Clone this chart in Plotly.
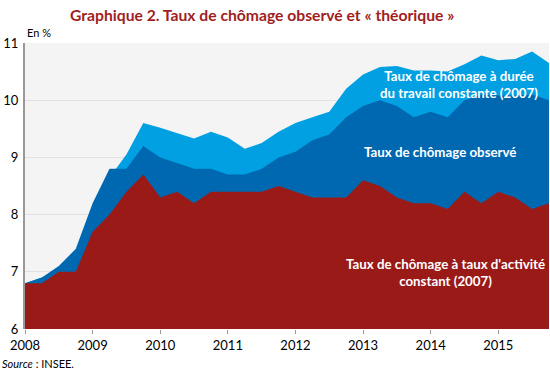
import plotly.graph_objects as go

quarters = [2008 + i * 0.25 for i in range(32)]

# Taux de chômage à durée du travail constante (2007)
duree_constante = [6.8, 6.9, 7.05, 7.35, 8.1, 8.65, 9.05, 9.6, 9.52, 9.42, 9.33, 9.45,
                   9.35, 9.15, 9.25, 9.45, 9.6, 9.7, 9.8, 10.2, 10.45, 10.58, 10.6, 10.52,
                   10.52, 10.5, 10.63, 10.78, 10.7, 10.72, 10.85, 10.65]
# Taux de chômage observé
observe = [6.8, 6.9, 7.1, 7.4, 8.2, 8.8, 8.8, 9.2, 9.0, 8.9, 8.8, 8.8,
           8.7, 8.7, 8.8, 9.0, 9.1, 9.3, 9.4, 9.7, 9.9, 10.0, 9.9, 9.7,
           9.8, 9.7, 10.0, 10.1, 10.08, 10.08, 10.1, 10.0]
# Taux de chômage à taux d'activité constant (2007)
activite_constante = [6.8, 6.8, 7.0, 7.0, 7.7, 8.0, 8.4, 8.7, 8.3, 8.4, 8.2, 8.4,
                      8.4, 8.4, 8.4, 8.5, 8.4, 8.3, 8.3, 8.3, 8.6, 8.5, 8.3, 8.2,
                      8.2, 8.1, 8.4, 8.2, 8.4, 8.3, 8.1, 8.2]

year_ticks = [2008, 2009, 2010, 2011, 2012, 2013, 2014, 2015]
y_ticks = [6, 7, 8, 9, 10, 11]

FONT = "Lato"
fig = go.Figure()
for vals, color, name in [
    (duree_constante, "#00A0E2", "Taux de chômage à durée du travail constante (2007)"),
    (observe, "#0068B1", "Taux de chômage observé"),
    (activite_constante, "#9A1A18", "Taux de chômage à taux d'activité constant (2007)"),
]:
    fig.add_trace(go.Scatter(x=quarters, y=vals, mode="lines", fill="tozeroy",
                             line=dict(width=0, color=color), fillcolor=color,
                             name=name, showlegend=False, hoverinfo="x+y"))

white = dict(family=FONT, size=13.3, color="white")
fig.add_annotation(x=2014.42, y=10.27, xref="x", yref="y", showarrow=False,
                   text="<b>Taux de chômage à durée<br>du travail constante (2007)</b>",
                   font=white, align="center")
fig.add_annotation(x=2014.14, y=9.1, xref="x", yref="y", showarrow=False,
                   text="<b>Taux de chômage observé</b>", font=white)
fig.add_annotation(x=2014.22, y=6.98, xref="x", yref="y", showarrow=False,
                   text="<b>Taux de chômage à taux d'activité<br>constant (2007)</b>",
                   font=white, align="center")

fig.add_annotation(x=0.4532, y=1, xref="paper", yref="paper", xanchor="center", yanchor="top",
                   yshift=43 - 4, showarrow=False,
                   text="<b>Graphique 2. Taux de chômage observé et « théorique »</b>",
                   font=dict(family=FONT, size=15.7, color="#A01E22"))
fig.add_annotation(x=0, y=1, xref="paper", yref="paper", xanchor="left", yanchor="bottom",
                   yshift=2, showarrow=False, text="En %",
                   font=dict(family=FONT, size=11, color="black"))
fig.add_annotation(x=0, y=0, xref="paper", yref="paper", xanchor="left", yanchor="top",
                   xshift=-25, yshift=-26, showarrow=False, text="<i>Source</i> : INSEE.",
                   font=dict(family=FONT, size=11, color="black"))

fig.update_layout(
    width=550, height=372,
    margin=dict(l=25, r=1, t=43, b=43),
    paper_bgcolor="white", plot_bgcolor="#F4F4F4",
    font=dict(family=FONT, size=13, color="black"),
    xaxis=dict(range=[2008, 2015.75], tickvals=year_ticks, ticktext=[str(y) for y in year_ticks],
               showgrid=False, zeroline=False, showline=False, automargin=False,
               ticks="outside", ticklen=4, tickcolor="#999999", tickwidth=1,
               tickfont=dict(family=FONT, size=13)),
    yaxis=dict(range=[6, 11], tickvals=y_ticks, showgrid=True, gridcolor="#E2E2E2",
               zeroline=False, showline=True, linecolor="#999999", linewidth=2,
               automargin=False, ticks="", ticklabelstandoff=2,
               tickfont=dict(family=FONT, size=13)),
)

fig.write_html(
    "out.html",
    config={"displayModeBar": False},
    post_script="document.body.style.margin='0';"
                "document.documentElement.style.overflow='hidden';",
)
